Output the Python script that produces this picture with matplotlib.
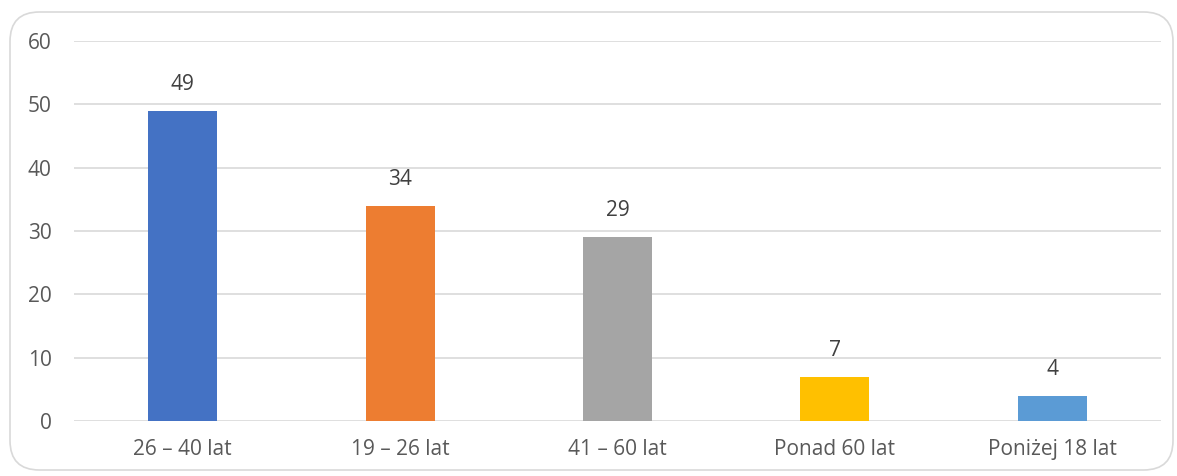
import matplotlib
matplotlib.use("Agg")
import matplotlib.pyplot as plt
from matplotlib.patches import FancyBboxPatch

categories = ["26 – 40 lat", "19 – 26 lat", "41 – 60 lat", "Ponad 60 lat", "Poniżej 18 lat"]
values = [49, 34, 29, 7, 4]
colors = ["#4472C4", "#ED7D31", "#A5A5A5", "#FFC000", "#5B9BD5"]
yticks = [0, 10, 20, 30, 40, 50, 60]

plt.rcParams['font.family'] = ['Open Sans', 'DejaVu Sans']
W, H = 1177, 476
fig = plt.figure(figsize=(W/100, H/100), dpi=100)
fig.patch.set_facecolor("white")

frame = FancyBboxPatch((10/W, 6/H), 1163/W, 458/H,
                       boxstyle="round,pad=0,rounding_size=0.025",
                       transform=fig.transFigure, facecolor="white",
                       edgecolor="#D9D9D9", linewidth=1.2, zorder=-5,
                       mutation_aspect=W/H)
fig.patches.append(frame)

ax = fig.add_axes([74/W, (H-421)/H, (1161-74)/W, (421-41)/H])
ax.set_zorder(2)
ax.set_facecolor("none")
x = list(range(len(categories)))
bars = ax.bar(x, values, width=0.318, color=colors, zorder=3)
ax.set_xlim(-0.5, len(categories) - 0.5)
ax.set_ylim(0, 60)
ax.set_yticks(yticks)
ax.set_xticks(x)
ax.set_xticklabels(categories)
ax.yaxis.grid(True, color="#D9D9D9", linewidth=1.2, zorder=0)
ax.set_axisbelow(True)
for s in ax.spines.values():
    s.set_visible(False)
ax.tick_params(axis='both', length=0, labelsize=15, colors="#595959")
ax.tick_params(axis='y', pad=16)
ax.tick_params(axis='x', pad=13)
for b, v in zip(bars, values):
    ax.annotate(str(v), (b.get_x() + b.get_width()/2, v), xytext=(0, 15),
                textcoords="offset points", ha="center", va="baseline",
                fontsize=15, color="#404040")

fig.savefig("out.png", dpi=100)
